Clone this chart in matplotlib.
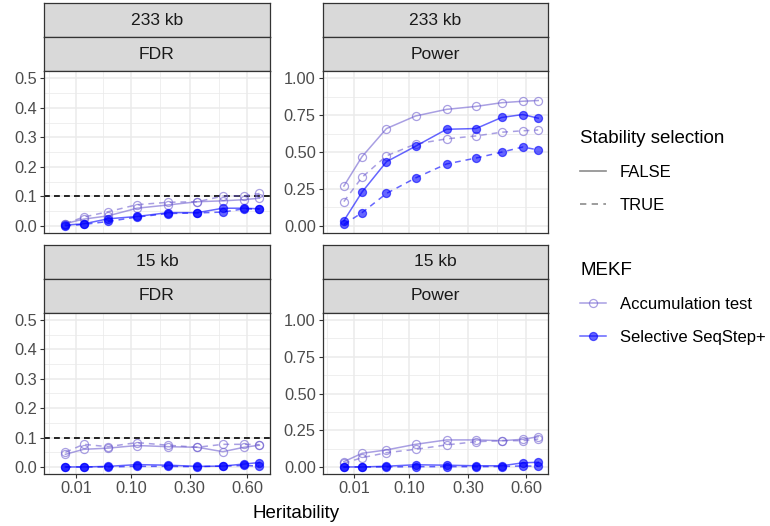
import numpy as np
import matplotlib.pyplot as plt
from matplotlib.lines import Line2D

plt.rcParams['font.family'] = ['Liberation Sans', 'DejaVu Sans']

W, H = 770, 526

heritability = [0.0034, 0.0169, 0.051, 0.1156, 0.2134, 0.334, 0.46, 0.58, 0.676]
windows = ['233 kb', '15 kb']
metrics = ['FDR', 'Power']
methods = ['Accumulation test', 'Selective SeqStep+']
stability = ['FALSE', 'TRUE']
x_breaks = [0.01, 0.10, 0.30, 0.60]
x_labels = ['0.01', '0.10', '0.30', '0.60']
target_fdr = 0.1

# 233 kb, FDR
fdr233_acc_false = [0.008, 0.023, 0.034, 0.060, 0.071, 0.082, 0.085, 0.089, 0.094]
fdr233_acc_true = [0.008, 0.030, 0.048, 0.072, 0.080, 0.082, 0.101, 0.102, 0.110]
fdr233_seq_false = [0.003, 0.007, 0.024, 0.032, 0.045, 0.045, 0.060, 0.060, 0.058]
fdr233_seq_true = [0.000, 0.005, 0.015, 0.030, 0.042, 0.044, 0.047, 0.058, 0.057]
# 233 kb, Power
pow233_acc_false = [0.27, 0.47, 0.66, 0.745, 0.79, 0.81, 0.835, 0.845, 0.85]
pow233_acc_true = [0.165, 0.33, 0.475, 0.555, 0.59, 0.61, 0.635, 0.645, 0.65]
pow233_seq_false = [0.035, 0.23, 0.435, 0.54, 0.655, 0.66, 0.735, 0.755, 0.73]
pow233_seq_true = [0.01, 0.09, 0.22, 0.325, 0.42, 0.46, 0.50, 0.535, 0.515]
# 15 kb, FDR
fdr15_acc_false = [0.043, 0.060, 0.064, 0.073, 0.069, 0.067, 0.052, 0.067, 0.074]
fdr15_acc_true = [0.050, 0.077, 0.069, 0.083, 0.074, 0.067, 0.077, 0.077, 0.076]
fdr15_seq_false = [0.000, 0.000, 0.002, 0.008, 0.006, 0.002, 0.003, 0.010, 0.015]
fdr15_seq_true = [0.000, 0.000, 0.000, 0.002, 0.002, 0.001, 0.003, 0.005, 0.003]
# 15 kb, Power
pow15_acc_false = [0.036, 0.093, 0.116, 0.154, 0.184, 0.184, 0.179, 0.188, 0.206]
pow15_acc_true = [0.025, 0.063, 0.097, 0.120, 0.150, 0.172, 0.179, 0.179, 0.190]
pow15_seq_false = [0.000, 0.000, 0.005, 0.015, 0.012, 0.008, 0.008, 0.028, 0.032]
pow15_seq_true = [0.000, 0.000, 0.000, 0.002, 0.002, 0.002, 0.003, 0.007, 0.005]

panels = {
    ('233 kb', 'FDR'): [fdr233_acc_false, fdr233_acc_true, fdr233_seq_false, fdr233_seq_true],
    ('233 kb', 'Power'): [pow233_acc_false, pow233_acc_true, pow233_seq_false, pow233_seq_true],
    ('15 kb', 'FDR'): [fdr15_acc_false, fdr15_acc_true, fdr15_seq_false, fdr15_seq_true],
    ('15 kb', 'Power'): [pow15_acc_false, pow15_acc_true, pow15_seq_false, pow15_seq_true],
}

col_acc = '#7060D0'
col_seq = '#0000FF'
alpha = 0.6
dash = (0, (3.8, 3.2))
ms = 5.8
tick_fs = 11.8
strip_fs = 12.6
legend_fs = 12.0
title_fs = 13.5


def px(x0, y0, x1, y1):
    return [x0 / W, 1 - y1 / H, (x1 - x0) / W, (y1 - y0) / H]


def ssqrt(x):
    return np.sign(x) * np.sqrt(np.abs(x))


def ssq(x):
    return np.sign(x) * x ** 2


fig = plt.figure(figsize=(W / 100, H / 100), dpi=100)

col_x = [(44.3, 269.5), (322.7, 548.3)]
row_y = [(3.3, 37.3, 71.0, 233.3), (245.0, 279.0, 312.7, 474.3)]

for r, win in enumerate(windows):
    for c, met in enumerate(metrics):
        x0, x1 = col_x[c]
        s0, s1, p0, p1 = row_y[r]
        # strips
        for (a, b), txt in [((s0, s1), win), ((s1, p0), met)]:
            sax = fig.add_axes(px(x0, a, x1, b))
            sax.set_facecolor('#D9D9D9')
            sax.set_xticks([])
            sax.set_yticks([])
            for sp in sax.spines.values():
                sp.set_color('#333333')
                sp.set_linewidth(0.9)
            sax.text(0.5, 0.5, txt, ha='center', va='center', fontsize=strip_fs,
                     color='#1A1A1A', transform=sax.transAxes)

        ax = fig.add_axes(px(x0, p0, x1, p1))
        ax.set_xscale('function', functions=(ssqrt, ssq))
        ax.set_xlim(-0.000615, 0.7427)
        ax.set_xticks(x_breaks)
        ax.set_xticks([-0.0000656, 0.0433, 0.1866, 0.4373], minor=True)
        if r == 1:
            ax.set_xticklabels(x_labels)
        else:
            ax.set_xticklabels([])

        if met == 'FDR':
            ax.set_ylim(-0.025, 0.525)
            ax.set_yticks(np.arange(0, 0.51, 0.1))
            ax.set_yticklabels(['0.0', '0.1', '0.2', '0.3', '0.4', '0.5'])
            ax.set_yticks(np.arange(0.05, 0.5, 0.1), minor=True)
            ax.axhline(target_fdr, color='black', lw=1.2, ls=(0, (3.5, 2.5)), zorder=1)
        else:
            ax.set_ylim(-0.05, 1.05)
            ax.set_yticks([0, 0.25, 0.5, 0.75, 1.0])
            ax.set_yticklabels(['0.00', '0.25', '0.50', '0.75', '1.00'])
            ax.set_yticks([0.125, 0.375, 0.625, 0.875], minor=True)

        ax.grid(True, which='major', color='#EBEBEB', lw=1.1)
        ax.grid(True, which='minor', color='#EBEBEB', lw=0.55)
        ax.set_axisbelow(True)
        ax.tick_params(which='minor', length=0)
        ax.tick_params(which='major', length=2.75, width=0.8, color='#333333',
                       labelsize=tick_fs, labelcolor='#4D4D4D', pad=2.2)
        if r == 0:
            ax.tick_params(axis='x', which='major', length=0)
        for sp in ax.spines.values():
            sp.set_color('#333333')
            sp.set_linewidth(0.9)

        acc_f, acc_t, seq_f, seq_t = panels[(win, met)]
        ax.plot(heritability, acc_f, color=col_acc, alpha=alpha, lw=1.1, marker='o',
                ms=ms, mfc='none', mew=0.9, zorder=3)
        ax.plot(heritability, acc_t, color=col_acc, alpha=alpha, lw=1.1, ls=dash, marker='o',
                ms=ms, mfc='none', mew=0.9, zorder=3)
        ax.plot(heritability, seq_f, color=col_seq, alpha=alpha, lw=1.1, marker='o',
                ms=ms, mew=0.9, zorder=4)
        ax.plot(heritability, seq_t, color=col_seq, alpha=alpha, lw=1.1, ls=dash, marker='o',
                ms=ms, mew=0.9, zorder=4)

fig.text(296 / W, 1 - 513 / H, 'Heritability', ha='center', va='center', fontsize=title_fs)

h1 = [Line2D([], [], color='#8C8C8C', lw=1.2),
      Line2D([], [], color='#8C8C8C', lw=1.2, ls=dash)]
leg1 = fig.legend(h1, stability, title='Stability selection', loc='upper left',
                  bbox_to_anchor=(580 / W, 1 - 130 / H), frameon=False, alignment='left',
                  fontsize=legend_fs, title_fontsize=title_fs, handlelength=1.55,
                  handletextpad=0.85, labelspacing=1.08, borderpad=0, borderaxespad=0)

h2 = [Line2D([], [], color=col_acc, alpha=alpha, lw=1.1, marker='o', ms=ms, mfc='none', mew=0.9),
      Line2D([], [], color=col_seq, alpha=alpha, lw=1.1, marker='o', ms=ms, mew=0.9)]
leg2 = fig.legend(h2, methods, title='MEKF', loc='upper left',
                  bbox_to_anchor=(580 / W, 1 - 262 / H), frameon=False, alignment='left',
                  fontsize=legend_fs, title_fontsize=title_fs, handlelength=1.55,
                  handletextpad=0.85, labelspacing=1.08, borderpad=0, borderaxespad=0)

fig.savefig('out.png', dpi=100)
